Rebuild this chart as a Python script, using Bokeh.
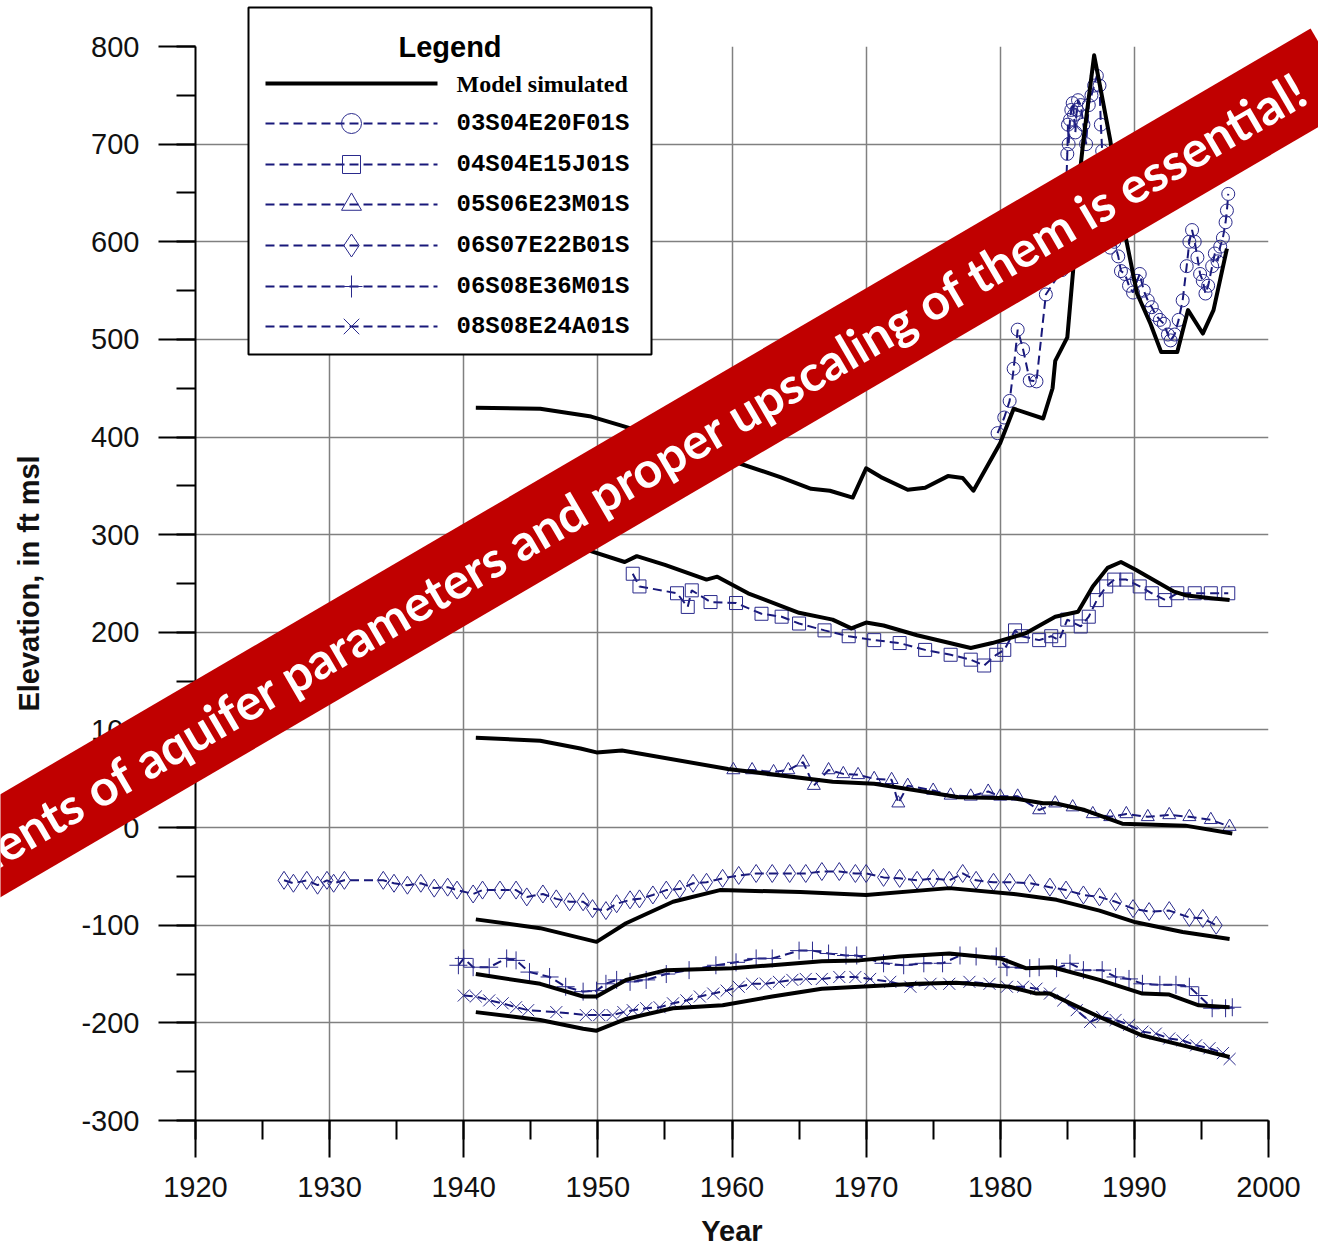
import math
from bokeh.plotting import figure
from bokeh.models import Range1d, SingleIntervalTicker, Label, PrintfTickFormatter
from bokeh.core.properties import value
from bokeh.embed import file_html
from bokeh.resources import INLINE

# ---------------- data ----------------
series_names = ["03S04E20F01S", "04S04E15J01S", "05S06E23M01S",
                "06S07E22B01S", "06S08E36M01S", "08S08E24A01S"]
model_name = "Model simulated"
markers = ["circle", "square", "triangle", "diamond", "cross", "x"]

# model simulated lines
m1_year = [1940.9, 1945.7, 1949.5, 1951.7, 1955.0, 1957.5, 1959.9, 1963.6, 1965.9, 1967.3, 1969.0, 1970.0,
           1971.1, 1973.1, 1974.4, 1976.1, 1977.2, 1978.0, 1980.0, 1981.0, 1983.2, 1983.9, 1984.1, 1985.0,
           1985.5, 1985.8, 1986.2, 1987.0, 1987.5, 1988.2, 1989.2, 1990.2, 1991.2, 1992.0, 1993.2, 1994.0,
           1995.1, 1995.9, 1996.9]
m1_elev = [430, 429, 421, 412, 398, 387, 376, 359, 347, 345, 338, 368,
           359, 346, 348, 360, 358, 345, 394, 429, 419, 450, 478, 502,
           581, 653, 704, 791, 755, 704, 615, 547, 516, 487, 487, 530,
           506, 530, 593]

m2_year = [1940.9, 1945.7, 1949.3, 1952.0, 1952.9, 1955.0, 1958.1, 1958.9, 1961.2, 1965.0, 1967.5, 1968.9,
           1970.0, 1971.3, 1973.8, 1977.8, 1979.4, 1981.9, 1984.1, 1985.8, 1986.9, 1988.0, 1989.0, 1990.1,
           1992.9, 1993.8, 1995.7, 1997.1]
m2_elev = [305, 297, 284, 272, 278, 269, 254, 257, 240, 220, 213, 204,
           210, 207, 197, 184, 189, 199, 216, 221, 247, 266, 272, 264,
           242, 238, 235, 233]

m3_year = [1940.9, 1945.7, 1948.7, 1949.9, 1951.8, 1959.7, 1967.5, 1970.6, 1973.8, 1976.9, 1981.0, 1983.2,
           1984.1, 1986.3, 1989.1, 1993.8, 1997.3]
m3_elev = [92, 89, 81, 77, 79, 60, 47, 45, 38, 31, 30, 25,
           25, 18, 4, 2, -6]

m4_year = [1940.9, 1945.7, 1949.9, 1952.1, 1955.6, 1959.1, 1965.1, 1970.0, 1976.2, 1981.0, 1984.2, 1987.4,
           1990.1, 1993.6, 1997.1]
m4_elev = [-94, -103, -117, -98, -76, -64, -66, -69, -62, -68, -74, -85,
           -97, -107, -114]

m5_year = [1940.9, 1945.7, 1948.9, 1949.9, 1952.1, 1955.1, 1960.0, 1963.0, 1966.7, 1969.5, 1972.5, 1976.2,
           1980.0, 1981.9, 1983.9, 1987.4, 1990.6, 1992.6, 1994.8, 1997.1]
m5_elev = [-150, -160, -173, -173, -156, -146, -144, -141, -137, -136, -132, -129,
           -134, -144, -143, -156, -170, -171, -182, -184]

m6_year = [1940.9, 1945.7, 1948.9, 1949.9, 1952.1, 1955.6, 1959.3, 1963.0, 1966.7, 1969.5, 1973.8, 1976.7,
           1980.7, 1982.7, 1983.7, 1987.4, 1990.6, 1993.6, 1997.1]
m6_elev = [-189, -197, -206, -208, -196, -185, -182, -173, -165, -163, -160, -159,
           -163, -170, -170, -194, -213, -223, -235]

# observed water levels
o1_year = [1979.8, 1980.3, 1980.7, 1981.0, 1981.3, 1981.7, 1982.2, 1982.7, 1983.4, 1984.6, 1984.8, 1984.9,
           1985.0, 1985.05, 1985.1, 1985.2, 1985.3, 1985.4, 1985.5, 1985.6, 1985.7, 1985.8, 1986.0, 1986.2,
           1986.4, 1986.6, 1986.8, 1987.0, 1987.2, 1987.4, 1987.5, 1987.6, 1987.8, 1988.0, 1988.2, 1988.5,
           1988.8, 1989.0, 1989.3, 1989.6, 1989.9, 1990.2, 1990.4, 1990.7, 1991.0, 1991.3, 1991.6, 1991.9,
           1992.2, 1992.5, 1992.7, 1993.0, 1993.3, 1993.6, 1993.9, 1994.1, 1994.3, 1994.5, 1994.7, 1994.9,
           1995.1, 1995.3, 1995.5, 1995.8, 1996.0, 1996.2, 1996.4, 1996.6, 1996.8, 1996.9, 1997.0]
o1_elev = [404, 420, 437, 470, 510, 490, 458, 457, 546, 571, 605, 650,
           690, 720, 700, 725, 735, 742, 730, 712, 735, 745, 740, 720,
           700, 740, 750, 760, 770, 760, 720, 693, 650, 620, 594, 600,
           585, 570, 567, 555, 548, 560, 567, 550, 540, 533, 525, 520,
           516, 505, 499, 505, 520, 540, 575, 600, 612, 600, 584, 567,
           560, 547, 555, 575, 588, 580, 595, 604, 620, 632, 649]

o2_year = [1952.6, 1953.1, 1955.9, 1956.7, 1957.0, 1958.4, 1960.3, 1962.2, 1963.7, 1965.0, 1966.9, 1968.7,
           1970.6, 1972.5, 1974.4, 1976.3, 1977.8, 1978.8, 1979.7, 1980.3, 1981.1, 1981.6, 1982.9, 1983.8,
           1984.4, 1985.0, 1986.0, 1986.6, 1987.2, 1987.9, 1988.5, 1989.4, 1990.4, 1991.3, 1992.3, 1993.2,
           1994.5, 1995.7, 1997.0]
o2_elev = [260, 247, 240, 226, 243, 231, 230, 219, 216, 209, 202, 196,
           192, 189, 182, 177, 172, 166, 177, 182, 202, 196, 192, 196,
           192, 213, 206, 216, 233, 247, 254, 254, 247, 240, 233, 240,
           240, 240, 240]

o3_year = [1960.1, 1961.5, 1963.1, 1964.2, 1965.3, 1966.1, 1967.2, 1968.3, 1969.4, 1970.6, 1971.9, 1972.4,
           1973.1, 1975.0, 1976.3, 1977.8, 1979.1, 1980.0, 1981.3, 1982.9, 1984.1, 1985.4, 1986.9, 1988.2,
           1989.4, 1991.0, 1992.6, 1994.1, 1995.7, 1997.1]
o3_elev = [59, 59, 57, 59, 67, 43, 59, 55, 54, 50, 49, 25,
           43, 38, 33, 32, 37, 32, 32, 18, 25, 21, 14, 11,
           14, 11, 13, 11, 8, 1]

o4_year = [1926.6, 1927.3, 1928.3, 1929.1, 1929.8, 1930.3, 1931.1, 1934.0, 1934.8, 1935.8, 1936.8, 1937.8,
           1938.8, 1939.5, 1940.7, 1941.4, 1942.7, 1943.9, 1944.7, 1945.9, 1946.9, 1947.9, 1948.9, 1949.6,
           1950.6, 1951.4, 1952.4, 1953.1, 1954.1, 1955.1, 1956.1, 1957.1, 1958.1, 1959.3, 1960.5, 1961.8,
           1963.0, 1964.3, 1965.5, 1966.7, 1968.0, 1969.2, 1970.0, 1971.3, 1972.5, 1973.8, 1975.0, 1976.2,
           1977.2, 1978.2, 1979.5, 1980.7, 1982.2, 1983.7, 1984.9, 1986.2, 1987.4, 1988.6, 1989.9, 1991.1,
           1992.6, 1994.1, 1995.1, 1996.1]
o4_elev = [-54, -57, -54, -59, -54, -57, -54, -54, -57, -59, -57, -62,
           -61, -64, -68, -64, -64, -64, -71, -68, -73, -76, -76, -83,
           -85, -78, -74, -73, -69, -64, -63, -57, -56, -52, -49, -47,
           -47, -47, -47, -45, -45, -47, -47, -51, -52, -54, -52, -54,
           -47, -54, -56, -56, -57, -61, -64, -69, -71, -76, -83, -86,
           -85, -92, -93, -100]

o5_year = [1939.6, 1940.0, 1940.7, 1941.9, 1943.2, 1943.9, 1944.9, 1946.4, 1947.6, 1948.9, 1949.9, 1950.6,
           1951.4, 1952.4, 1953.6, 1955.1, 1956.8, 1958.8, 1960.3, 1961.8, 1963.0, 1965.0, 1966.0, 1967.2,
           1968.5, 1969.3, 1971.3, 1972.8, 1974.3, 1975.7, 1977.0, 1978.2, 1979.7, 1980.5, 1982.2, 1982.9,
           1984.2, 1985.2, 1986.2, 1987.6, 1988.6, 1989.6, 1990.6, 1991.9, 1993.1, 1994.1, 1994.8, 1995.8,
           1996.8, 1997.3]
o5_elev = [-141, -134, -143, -143, -134, -136, -148, -153, -163, -168, -167, -160,
           -156, -158, -156, -150, -146, -141, -138, -134, -134, -126, -126, -129,
           -131, -131, -139, -141, -139, -139, -131, -132, -132, -143, -144, -143,
           -144, -139, -146, -146, -153, -155, -160, -161, -161, -163, -172, -185,
           -185, -184]

o6_year = [1940.0, 1940.9, 1941.9, 1942.9, 1943.9, 1944.8, 1946.9, 1949.1, 1950.1, 1951.1, 1951.9, 1952.6,
           1953.6, 1954.6, 1955.6, 1956.6, 1957.6, 1958.6, 1959.6, 1960.5, 1961.5, 1962.5, 1963.5, 1964.5,
           1965.5, 1966.7, 1968.0, 1969.2, 1970.3, 1971.8, 1973.3, 1974.8, 1976.2, 1977.7, 1979.2, 1980.5,
           1981.7, 1982.7, 1983.7, 1984.7, 1985.7, 1986.7, 1987.6, 1988.6, 1989.6, 1990.6, 1991.6, 1992.6,
           1993.6, 1994.6, 1995.6, 1996.6, 1997.1]
o6_elev = [-172, -173, -177, -180, -184, -187, -189, -192, -192, -192, -189, -187,
           -185, -184, -180, -177, -173, -170, -167, -163, -160, -160, -158, -156,
           -155, -155, -153, -153, -155, -158, -163, -160, -160, -158, -160, -163,
           -163, -165, -170, -177, -187, -199, -194, -197, -202, -209, -211, -216,
           -218, -223, -226, -231, -237]

model_years = [m1_year, m2_year, m3_year, m4_year, m5_year, m6_year]
model_elevs = [m1_elev, m2_elev, m3_elev, m4_elev, m5_elev, m6_elev]
obs_years = [o1_year, o2_year, o3_year, o4_year, o5_year, o6_year]
obs_elevs = [o1_elev, o2_elev, o3_elev, o4_elev, o5_elev, o6_elev]

banner_text = "Measurements of aquifer parameters and proper upscaling of them is essential!"

# ---------------- layout (pixels) ----------------
W, H = 1318, 1250
FL, FT, FR, FB = 195, 46, 1268, 1120
X0, X1, Y0, Y1 = 1920, 2000, -300, 800

NAVY_LINE = "#18187a"
NAVY_MARK = "#2a2a8c"

p = figure(width=W, height=H, output_backend="svg", toolbar_location=None,
           x_range=Range1d(X0, X1), y_range=Range1d(Y0, Y1),
           min_border_left=FL, min_border_right=W - FR,
           min_border_top=FT, min_border_bottom=H - FB)
p.outline_line_color = None
p.background_fill_color = "white"
p.border_fill_color = "white"

xt = SingleIntervalTicker(interval=10, num_minor_ticks=2)
yt = SingleIntervalTicker(interval=100, num_minor_ticks=2)
p.xaxis.ticker = xt
p.yaxis.ticker = yt
p.xgrid.ticker = xt
p.ygrid.ticker = yt
for g in (p.xgrid, p.ygrid):
    g.grid_line_color = "#808080"
    g.grid_line_width = 1.5

for ax in (p.xaxis, p.yaxis):
    ax.formatter = PrintfTickFormatter(format="%d")
    ax.axis_line_color = "black"
    ax.axis_line_width = 2
    ax.major_tick_line_color = "black"
    ax.major_tick_line_width = 2
    ax.minor_tick_line_color = "black"
    ax.minor_tick_line_width = 2
    ax.major_tick_in = 0
    ax.major_tick_out = 37
    ax.minor_tick_in = 0
    ax.minor_tick_out = 19
    ax.major_label_text_font = "Liberation Sans"
    ax.major_label_text_font_size = "29px"
    ax.major_label_text_color = "#111111"
    ax.axis_label_text_font = "Liberation Sans"
    ax.axis_label_text_font_style = "bold"
    ax.axis_label_text_font_size = "29px"
    ax.axis_label_text_color = "#111111"

p.xaxis.axis_label = "Year"
p.yaxis.axis_label = "Elevation, in ft msl"
p.xaxis.major_label_standoff = 19
p.yaxis.major_label_standoff = 19
p.xaxis.axis_label_standoff = 15
p.yaxis.axis_label_standoff = 33

for i in range(6):
    p.line(obs_years[i], obs_elevs[i], line_color=NAVY_LINE, line_width=2, line_dash="9 5")
    size = {"cross": 18, "x": 17, "diamond": 18}.get(markers[i], 13)
    p.scatter(obs_years[i], obs_elevs[i], marker=markers[i], size=size,
              line_color=NAVY_MARK, line_width=1, fill_color=None)

for i in range(6):
    p.line(model_years[i], model_elevs[i], line_color="black", line_width=4, line_join="round")

# ---------------- overlay (legend + banner), pixel coordinates, y down ----------------
o = figure(width=W, height=H, output_backend="svg", toolbar_location=None,
           x_range=Range1d(0, W), y_range=Range1d(H, 0),
           x_axis_location=None, y_axis_location=None,
           min_border_left=0, min_border_right=0, min_border_top=0, min_border_bottom=0,
           styles={"position": "absolute", "left": "0px", "top": "0px"})
o.outline_line_color = None
o.background_fill_alpha = 0
o.border_fill_alpha = 0
o.xgrid.visible = False
o.ygrid.visible = False

# legend box
LG_L, LG_R, LG_T, LG_B = 248, 651, 7, 354
rows = [83, 123, 164, 204, 245, 286, 326]
SX0, SX1, TX = 265, 437, 456
o.quad(left=[LG_L], right=[LG_R], top=[LG_T], bottom=[LG_B],
       fill_color="white", line_color="black", line_width=2)
o.text(x=[(LG_L + LG_R) / 2], y=[46], text=["Legend"], text_align="center", text_baseline="middle",
       text_font=value("Liberation Sans"), text_font_style="bold", text_font_size=value("29px"),
       text_color="black")
o.segment(x0=[SX0], y0=[rows[0]], x1=[SX1], y1=[rows[0]], line_color="black", line_width=4)
o.text(x=[TX], y=[rows[0]], text=[model_name], text_align="left", text_baseline="middle",
       text_font=value("Liberation Serif"), text_font_style="bold", text_font_size=value("24px"),
       text_color="black")
n = len(series_names)
o.segment(x0=[SX0] * n, y0=rows[1:], x1=[SX1] * n, y1=rows[1:],
          line_color=NAVY_LINE, line_width=2, line_dash="9 5")
leg_sizes = {"circle": 20, "square": 18, "triangle": 20, "diamond": 23, "cross": 22, "x": 22}
o.scatter(x=[(SX0 + SX1) / 2] * n, y=rows[1:], marker=markers,
          size=[leg_sizes[m] for m in markers],
          line_color=NAVY_MARK, line_width=1, fill_color=None)
o.text(x=[TX] * n, y=rows[1:], text=series_names, text_align="left", text_baseline="middle",
       text_font=value("Liberation Mono"), text_font_style="bold", text_font_size=value("24px"),
       text_color="black")

# banner: rotated red band with white text
theta = math.radians(30.3)
ux, uy = math.cos(theta), -math.sin(theta)   # along the band (screen, y down)
nx, ny = math.sin(theta), math.cos(theta)    # across the band
ex, ey = 1332.5, 66.5                        # centre of the band's right end
half, length = 44.5, 1900
bxs = [ex - nx * half, ex + nx * half, ex + nx * half - ux * length, ex - nx * half - ux * length]
bys = [ey - ny * half, ey + ny * half, ey + ny * half - uy * length, ey - ny * half - uy * length]
o.patch(bxs, bys, fill_color="#c00000", line_color=None)
t_back = 33
o.add_layout(Label(x=ex - ux * t_back, y=ey - uy * t_back, text=banner_text, angle=theta,
                   text_align="right", text_baseline="middle",
                   text_font="Lato", text_font_style="bold", text_font_size="50px",
                   text_color="white"))

open("out.html", "w").write(file_html([p, o], INLINE))
